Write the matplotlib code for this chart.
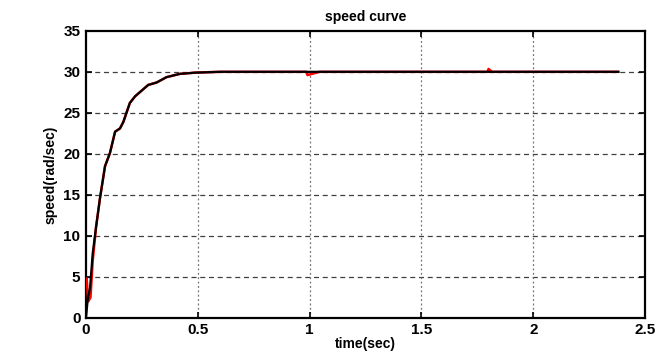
import matplotlib
matplotlib.use("Agg")
import matplotlib.pyplot as plt

# black trace (simulated speed)
t_black = [0.0, 0.007, 0.018, 0.03, 0.045, 0.0625, 0.085, 0.107, 0.13, 0.152,
           0.167, 0.196, 0.219, 0.278, 0.316, 0.36, 0.42, 0.49, 0.6, 1.0, 2.38]
w_black = [0.0, 2.1, 3.7, 7.9, 11.1, 14.6, 18.5, 20.1, 22.7, 23.1,
           23.9, 26.2, 27.0, 28.4, 28.7, 29.35, 29.75, 29.9, 30.0, 30.0, 30.0]

# red trace (mostly hidden under the black one)
t_red = [0.0, 0.003, 0.01, 0.02, 0.03, 0.045, 0.0625, 0.085, 0.107, 0.13, 0.152,
         0.167, 0.196, 0.219, 0.278, 0.316, 0.36, 0.42, 0.49, 0.6,
         0.985, 0.99, 1.045, 1.795, 1.80, 1.815, 2.38]
w_red = [4.6, 4.8, 2.0, 2.5, 7.0, 11.1, 14.6, 18.5, 20.1, 22.7, 23.1,
         23.9, 26.2, 27.0, 28.4, 28.7, 29.35, 29.75, 29.9, 30.0,
         30.0, 29.6, 30.0, 30.0, 30.35, 30.0, 30.0]

xticks = [0, 0.5, 1, 1.5, 2, 2.5]
yticks = [0, 5, 10, 15, 20, 25, 30, 35]

plt.rcParams['font.family'] = ['Liberation Sans', 'DejaVu Sans']

fig = plt.figure(figsize=(6.72, 3.54), dpi=100)
ax = fig.add_axes([0.128, 0.102, 0.832, 0.811])

ax.plot(t_red, w_red, color='red', lw=1.8, zorder=3)
ax.plot(t_black, w_black, color='black', lw=1.6, zorder=4)

ax.set_xlim(0, 2.5)
ax.set_ylim(0, 35)
ax.set_xticks(xticks)
ax.set_xticklabels(['0', '0.5', '1', '1.5', '2', '2.5'])
ax.set_yticks(yticks)

# MATLAB-like grid
for y in yticks[1:-1]:
    ax.axhline(y, color='0.25', lw=0.9, ls=(0, (4, 3)), zorder=1)
for x in xticks[1:-1]:
    ax.axvline(x, color='0.45', lw=0.9, ls=(0, (1.5, 2)), zorder=1)

for s in ax.spines.values():
    s.set_linewidth(1.6)
ax.tick_params(direction='in', top=True, right=True, length=4, width=1.2,
               labelsize=11, pad=4)
for lab in ax.get_xticklabels() + ax.get_yticklabels():
    lab.set_fontweight('bold')

ax.set_title('speed curve', fontsize=10, fontweight='bold', pad=7)
ax.set_xlabel('time(sec)', fontsize=10, fontweight='bold', labelpad=0)
ax.set_ylabel('speed(rad/sec)', fontsize=10, fontweight='bold', labelpad=4)

fig.savefig('out.png', dpi=100)
